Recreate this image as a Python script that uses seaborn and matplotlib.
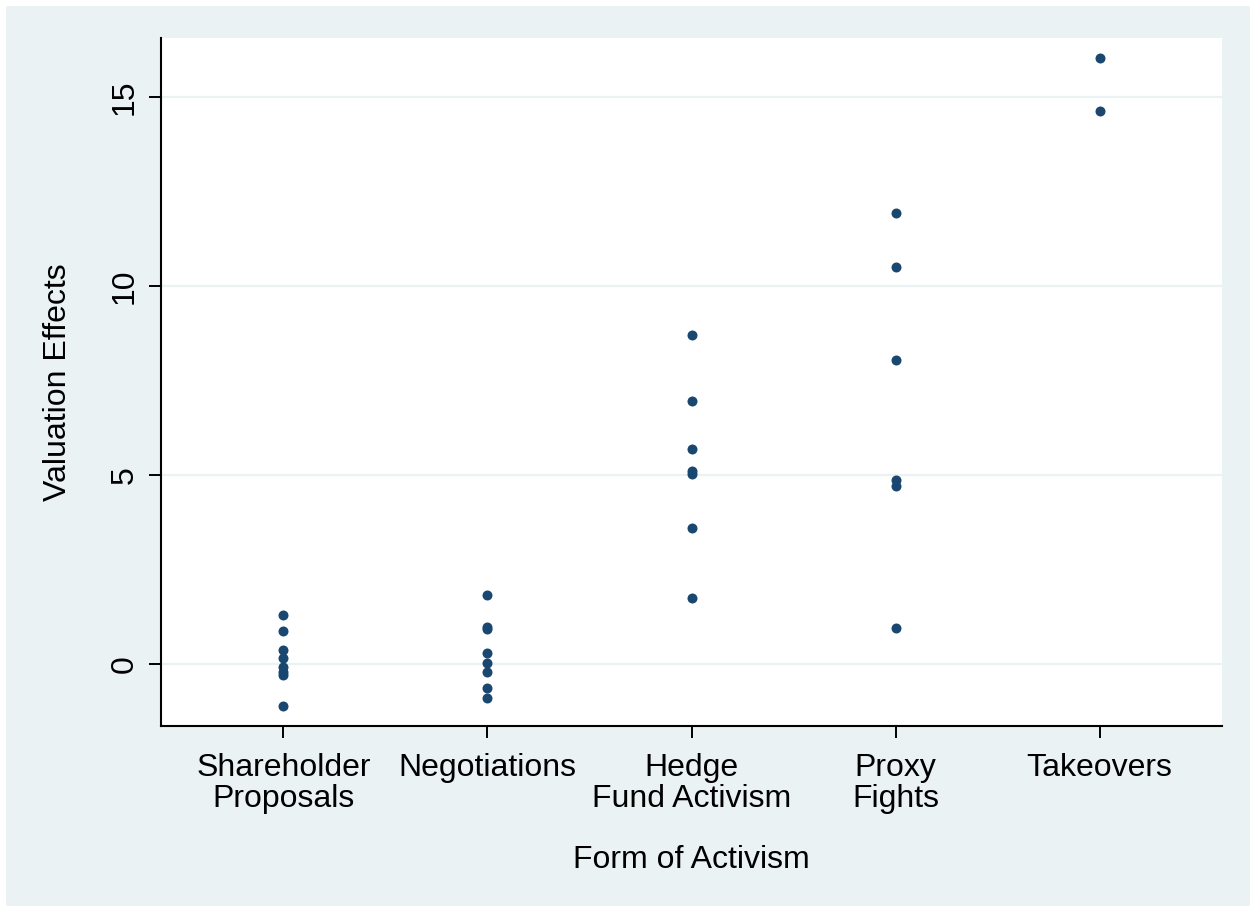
import matplotlib
matplotlib.use("Agg")
import matplotlib.pyplot as plt
import seaborn as sns
import pandas as pd
from matplotlib.patches import Rectangle

categories = ["Shareholder\nProposals", "Negotiations", "Hedge\nFund Activism", "Proxy\nFights", "Takeovers"]
shareholder_proposals = [1.30, 0.87, 0.37, 0.15, -0.07, -0.20, -0.29, -1.10]
negotiations = [1.83, 0.98, 0.92, 0.28, 0.02, -0.20, -0.64, -0.91]
hedge_fund_activism = [8.70, 6.96, 5.68, 5.10, 5.03, 3.61, 1.75]
proxy_fights = [11.92, 10.49, 8.04, 4.87, 4.71, 0.94]
takeovers = [16.02, 14.64]
y_ticks = [0, 5, 10, 15]

series = [shareholder_proposals, negotiations, hedge_fund_activism, proxy_fights, takeovers]
rows = []
for cat, vals in zip(categories, series):
    for v in vals:
        rows.append({"form": cat, "value": v})
df = pd.DataFrame(rows)

sns.set_style("white")
plt.rcParams["font.family"] = ["Liberation Sans", "DejaVu Sans"]
plt.rcParams["text.color"] = "black"
plt.rcParams["axes.labelcolor"] = "black"

W, H = 1250, 907
fig = plt.figure(figsize=(W / 100, H / 100), dpi=100, facecolor="white")
bg = Rectangle((6 / W, 1 / H), (W - 6) / W, (H - 7) / H,
               transform=fig.transFigure, facecolor="#EAF2F3",
               edgecolor="none", zorder=-10)
fig.patches.append(bg)

ax = fig.add_axes([161 / W, (H - 726) / H, (1222 - 161) / W, (726 - 38) / H])
ax.set_zorder(5)
ax.set_facecolor("white")

sns.stripplot(data=df, x="form", y="value", order=categories, jitter=False,
              color="#1A476F", size=7.2, linewidth=0, ax=ax, zorder=3)

ax.set_xlim(-0.6, 4.6)
ax.set_ylim(-1.64, 16.56)
ax.set_yticks(y_ticks)
ax.set_yticklabels([str(t) for t in y_ticks], rotation=90, va="center")
ax.yaxis.grid(True, color="#EAF2F3", linewidth=1.6, zorder=0)
ax.xaxis.grid(False)
ax.set_axisbelow(True)

for s in ["top", "right"]:
    ax.spines[s].set_visible(False)
for s in ["left", "bottom"]:
    ax.spines[s].set_color("black")
    ax.spines[s].set_linewidth(1.5)

ax.tick_params(axis="both", which="major", direction="out", length=8.5,
               width=1.4, color="black", labelsize=23, labelcolor="black",
               left=True, bottom=True)
ax.tick_params(axis="y", pad=7)
ax.tick_params(axis="x", pad=11)
for lab in ax.get_xticklabels():
    lab.set_linespacing(1.05)

ax.set_xlabel("Form of Activism", fontsize=23, labelpad=22, color="black")
ax.set_ylabel("Valuation Effects", fontsize=23, labelpad=26, color="black")

fig.savefig("out.png", dpi=100, facecolor=fig.get_facecolor())
